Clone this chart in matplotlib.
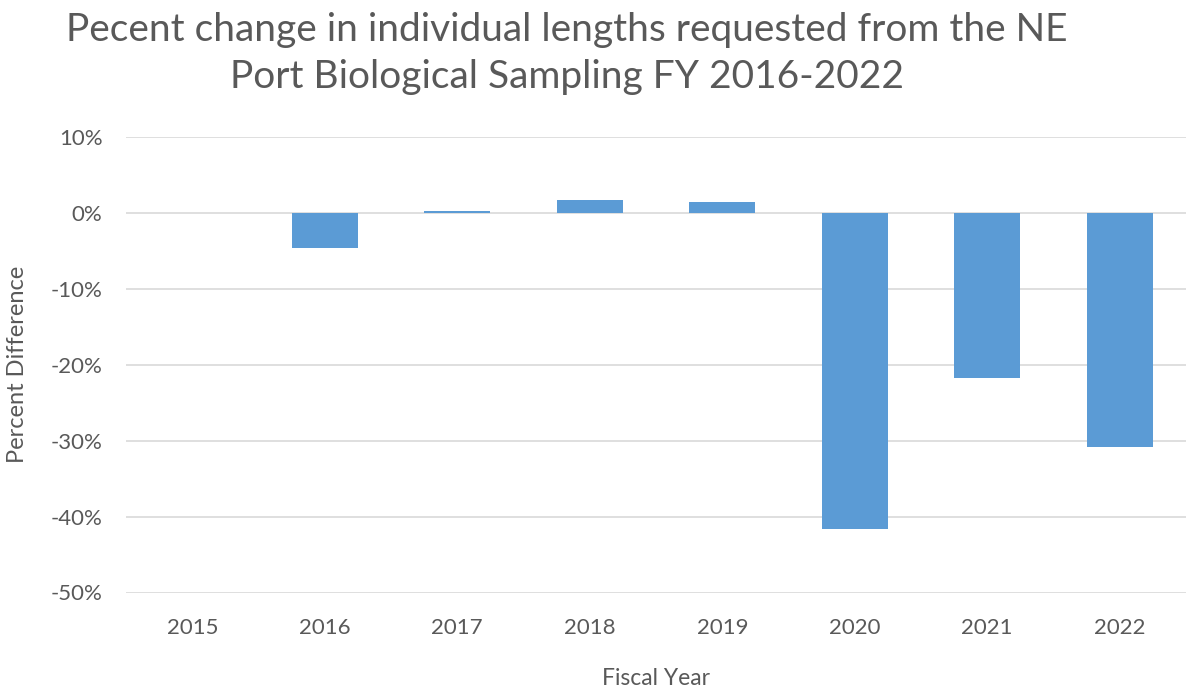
import matplotlib
matplotlib.use("Agg")
import matplotlib.pyplot as plt
from matplotlib.ticker import FuncFormatter

# data
years = ["2015", "2016", "2017", "2018", "2019", "2020", "2021", "2022"]
pct_change = [0.0, -4.6, 0.2, 1.65, 1.5, -41.7, -21.7, -30.9]

text_color = "#595959"
bar_color = "#5b9bd5"
grid_color = "#d9d9d9"

plt.rcParams["font.family"] = ["Lato", "DejaVu Sans"]
plt.rcParams["axes.unicode_minus"] = False

fig = plt.figure(figsize=(12.02, 6.92), dpi=100)
ax = fig.add_axes([126 / 1202, (692 - 592.5) / 692, 1060 / 1202, 455.5 / 692])

x = range(len(years))
ax.bar(x, pct_change, width=0.5, color=bar_color, zorder=3)

ax.set_xlim(-0.5, len(years) - 0.5)
ax.set_ylim(-50, 10)
ax.set_yticks(range(-50, 11, 10))
ax.yaxis.set_major_formatter(FuncFormatter(lambda v, pos: f"{v:.0f}%"))
ax.set_xticks(list(x))
ax.set_xticklabels(years)

ax.grid(axis="y", color=grid_color, linewidth=1.2, zorder=0)
for s in ax.spines.values():
    s.set_visible(False)
ax.tick_params(length=0, colors=text_color, labelsize=16)
ax.tick_params(axis="x", pad=18)
ax.tick_params(axis="y", pad=17)

ax.set_xlabel("Fiscal Year", fontsize=16.5, color=text_color, labelpad=22)
ax.set_ylabel("Percent Difference", fontsize=17, color=text_color, labelpad=16)

fig.text(567 / 1202, 1 - 30 / 692, "Pecent change in individual lengths requested from the NE",
         ha="center", va="center", fontsize=28, color=text_color)
fig.text(567 / 1202, 1 - 77 / 692, "Port Biological Sampling FY 2016-2022",
         ha="center", va="center", fontsize=28, color=text_color)

fig.savefig("out.png", dpi=100)
plt.close(fig)
